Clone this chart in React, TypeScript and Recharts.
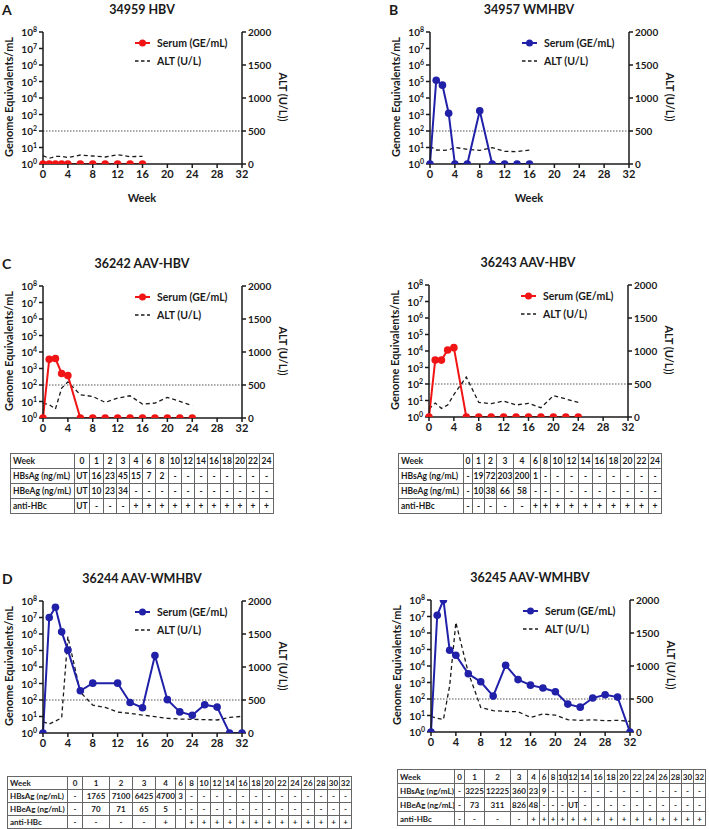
import React from 'react'
import { LineChart, Line, XAxis, YAxis, ReferenceLine, Legend } from 'recharts'

const FONT = 'Lato, "Open Sans", sans-serif'
const INK = '#1a1a1a'
const RED = '#f01414'
const BLUE = '#2020a8'

const weekTicks = [0, 4, 8, 12, 16, 20, 24, 28, 32]
const geTicks = [1, 10, 100, 1e3, 1e4, 1e5, 1e6, 1e7, 1e8]
const altTicks = [0, 500, 1000, 1500, 2000]

// A: 34959 HBV
const aWeeks = [0, 1, 2, 3, 4, 6, 8, 10, 12, 14, 16]
const aSerum = [1, 1, 1, 1, 1, 1, 1, 1, 1, 1, 1]
const aAlt = [126, 86, 116, 116, 96, 136, 121, 106, 141, 111, 116]

// B: 34957 WMHBV
const bWeeks = [0, 1, 2, 3, 4, 6, 8, 10, 12, 14, 16]
const bSerum = [1, 1.2e5, 6e4, 1.2e3, 1, 1, 1.7e3, 1, 1, 1, 1]
const bAlt = [268, 212, 207, 212, 252, 222, 207, 247, 192, 187, 212]

// C: 36242 / 36243 AAV-HBV
const cWeeks = [0, 1, 2, 3, 4, 6, 8, 10, 12, 14, 16, 18, 20, 22, 24]
const c1Serum = [1, 3.6e3, 4e3, 5e2, 3.7e2, 1, 1, 1, 1, 1, 1, 1, 1, 1, 1]
const c1Alt = [226, 201, 136, 452, 548, 352, 327, 236, 302, 337, 211, 226, 312, 251, 186]
const c2Serum = [1, 2.8e3, 2.8e3, 1.15e4, 1.6e4, 1, 1, 1, 1, 1, 1, 1, 1, 1, 1]
const c2Alt = [121, 212, 131, 182, 340, 606, 222, 202, 242, 182, 207, 141, 323, 273, 222]

// D: 36244 / 36245 AAV-WMHBV
const d1SerumWeeks = [0, 1, 2, 3, 4, 6, 8, 12, 14, 16, 18, 20, 22, 24, 26, 28, 30, 32]
const d1Serum = [1, 1e7, 4.2e7, 1.35e6, 1.05e5, 3.6e2, 1.05e3, 1.05e3, 71, 34, 5e4, 105, 19, 12, 52, 37, 1, 1]
const dWeeks = [0, 1, 2, 3, 4, 6, 8, 10, 12, 14, 16, 18, 20, 22, 24, 26, 28, 30, 32]
const d1Alt = [171, 136, 181, 230, 1460, 620, 423, 388, 318, 297, 272, 247, 222, 212, 207, 202, 197, 237, 252]
const d2Serum = [1, 1.2e7, 1e8, 9e4, 4.5e4, 3.4e3, 1.1e3, 150, 1.1e4, 1.5e3, 690, 460, 275, 49, 32, 114, 180, 130, 1]
const d2Alt = [237, 207, 190, 700, 1660, 900, 373, 323, 312, 307, 222, 272, 257, 186, 176, 186, 171, 176, 161]

// tables
const cTableWeeks = ['0', '1', '2', '3', '4', '6', '8', '10', '12', '14', '16', '18', '20', '22', '24']
const c1HBsAg = ['UT', '16', '23', '45', '15', '7', '2', '-', '-', '-', '-', '-', '-', '-', '-']
const c1HBeAg = ['UT', '10', '23', '34', '-', '-', '-', '-', '-', '-', '-', '-', '-', '-', '-']
const c1AntiHBc = ['UT', '-', '-', '-', '+', '+', '+', '+', '+', '+', '+', '+', '+', '+', '+']
const c2HBsAg = ['-', '19', '72', '203', '200', '1', '-', '-', '-', '-', '-', '-', '-', '-', '-']
const c2HBeAg = ['-', '10', '38', '66', '58', '-', '-', '-', '-', '-', '-', '-', '-', '-', '-']
const c2AntiHBc = ['-', '-', '-', '-', '-', '+', '+', '+', '+', '+', '+', '+', '+', '+', '+']

const dTableWeeks = ['0', '1', '2', '3', '4', '6', '8', '10', '12', '14', '16', '18', '20', '22', '24', '26', '28', '30', '32']
const d1HBsAg = ['-', '1765', '7100', '6425', '4700', '3', '-', '-', '-', '-', '-', '-', '-', '-', '-', '-', '-', '-', '-']
const d1HBeAg = ['-', '70', '71', '65', '5', '-', '-', '-', '-', '-', '-', '-', '-', '-', '-', '-', '-', '-', '-']
const d1AntiHBc = ['-', '-', '-', '-', '+', '', '+', '+', '+', '+', '+', '+', '+', '+', '+', '+', '+', '+', '+']
const d2HBsAg = ['-', '3225', '12225', '360', '23', '9', '-', '-', '-', '-', '-', '-', '-', '-', '-', '-', '-', '-', '-']
const d2HBeAg = ['-', '73', '311', '826', '48', '-', '-', '-', 'UT', '-', '-', '-', '-', '-', '-', '-', '-', '-', '-']
const d2AntiHBc = ['-', '-', '-', '-', '+', '+', '+', '+', '+', '+', '+', '+', '+', '+', '+', '+', '+', '+', '+']

const pts = (weeks: number[], vals: number[]) => weeks.map((week, i) => ({ week, v: vals[i] }))

const PowTick = (props: any) => {
  const { x, y, payload } = props
  const e = Math.round(Math.log10(payload.value))
  return (
    <text x={x} y={y} dy={4} textAnchor="end" fontSize={10} fontWeight={700} fill={INK} fontFamily={FONT}>
      10<tspan dy={-4} fontSize={7}>{e}</tspan>
    </text>
  )
}

const PanelLegend = ({ color }: { color: string }) => (
  <div style={{ fontFamily: FONT, fontWeight: 700, fontSize: 10.5, color: INK, lineHeight: '18px' }}>
    <div style={{ display: 'flex', alignItems: 'center' }}>
      <svg width={22} height={18}>
        <line x1={0} y1={9} x2={15} y2={9} stroke={color} strokeWidth={2} />
        <circle cx={7.5} cy={9} r={3.5} fill={color} />
      </svg>
      <span>Serum (GE/mL)</span>
    </div>
    <div style={{ display: 'flex', alignItems: 'center' }}>
      <svg width={22} height={18}>
        <line x1={0} y1={9} x2={15} y2={9} stroke={INK} strokeWidth={1.3} strokeDasharray="3.5 2.5" />
      </svg>
      <span>ALT (U/L)</span>
    </div>
  </div>
)

interface PanelProps {
  left: number
  top: number
  title: string
  letter?: string
  showWeek?: boolean
  color: string
  serum: { week: number; v: number }[]
  alt: { week: number; v: number }[]
}

function Panel({ left, top, title, letter, showWeek, color, serum, alt }: PanelProps) {
  const text = { position: 'absolute' as const, fontFamily: FONT, fontWeight: 700, color: INK, whiteSpace: 'nowrap' as const }
  return (
    <div style={{ position: 'absolute', left, top, width: 320, height: 205 }}>
      {letter && <div style={{ ...text, left: 2, top: 1, fontSize: 14 }}>{letter}</div>}
      <div style={{ ...text, left: 142, top: 9, fontSize: 12.5, transform: 'translate(-50%, -50%)' }}>{title}</div>
      <div style={{ ...text, left: 8, top: 97, fontSize: 11, transform: 'translate(-50%, -50%) rotate(-90deg)' }}>Genome Equivalents/mL</div>
      <div style={{ ...text, left: 283, top: 97, fontSize: 11, transform: 'translate(-50%, -50%) rotate(90deg)' }}>ALT (U/L))</div>
      {showWeek && <div style={{ ...text, left: 142, top: 197, fontSize: 11, transform: 'translate(-50%, -50%)' }}>Week</div>}
      <LineChart width={320} height={200} margin={{ top: 32, right: 38, bottom: 16, left: 3 }}>
        <XAxis
          type="number"
          dataKey="week"
          domain={[0, 32]}
          ticks={weekTicks}
          interval={0}
          height={20}
          tickSize={4}
          stroke={INK}
          strokeWidth={1.5}
          tick={{ fontSize: 11, fontWeight: 700, fill: INK, fontFamily: FONT }}
        />
        <YAxis
          yAxisId="ge"
          scale="log"
          domain={[1, 1e8]}
          ticks={geTicks}
          interval={0}
          allowDataOverflow
          width={40}
          tickSize={4}
          stroke={INK}
          strokeWidth={1.5}
          tick={<PowTick />}
        />
        <YAxis
          yAxisId="alt"
          orientation="right"
          domain={[0, 2000]}
          ticks={altTicks}
          interval={0}
          width={40}
          tickSize={4}
          stroke={INK}
          strokeWidth={1.5}
          tick={{ fontSize: 10, fontWeight: 700, fill: INK, fontFamily: FONT }}
        />
        <ReferenceLine yAxisId="ge" y={100} stroke="#555" strokeWidth={1} strokeDasharray="1.5 1.5" />
        <Line
          yAxisId="alt"
          data={alt}
          dataKey="v"
          stroke={INK}
          strokeWidth={1.3}
          strokeDasharray="4 3"
          dot={false}
          isAnimationActive={false}
        />
        <Line
          yAxisId="ge"
          data={serum}
          dataKey="v"
          stroke={color}
          strokeWidth={2}
          dot={{ r: 3.8, fill: color, stroke: color, strokeWidth: 0 }}
          isAnimationActive={false}
        />
        <Legend
          layout="vertical"
          align="center"
          verticalAlign="middle"
          wrapperStyle={{ top: 34, left: 135, width: 120 }}
          content={() => <PanelLegend color={color} />}
        />
      </LineChart>
    </div>
  )
}

interface TableProps {
  left: number
  top: number
  rowH: number
  labelW: number
  colW: number[]
  fontSize: number
  weeks: string[]
  rows: { label: string; values: string[] }[]
}

function DataTable({ left, top, rowH, labelW, colW, fontSize, weeks, rows }: TableProps) {
  const width = labelW + colW.reduce((s, w) => s + w, 0)
  const cell = {
    border: '1px solid #666', padding: 0, textAlign: 'center' as const, lineHeight: 1,
    whiteSpace: 'nowrap' as const, overflow: 'hidden',
  }
  const lab = { ...cell, textAlign: 'left' as const, paddingLeft: 2 }
  return (
    <table
      style={{
        position: 'absolute', left, top, width, tableLayout: 'fixed', borderCollapse: 'collapse',
        fontFamily: FONT, fontSize, fontWeight: 700, color: INK,
      }}
    >
      <colgroup>
        <col style={{ width: labelW }} />
        {colW.map((w, i) => <col key={i} style={{ width: w }} />)}
      </colgroup>
      <tbody>
        <tr style={{ height: rowH }}>
          <td style={lab}>Week</td>
          {weeks.map((w, i) => <td key={i} style={cell}>{w}</td>)}
        </tr>
        {rows.map((r) => (
          <tr key={r.label} style={{ height: rowH }}>
            <td style={lab}>{r.label}</td>
            {r.values.map((v, i) => <td key={i} style={cell}>{v}</td>)}
          </tr>
        ))}
      </tbody>
    </table>
  )
}

export default function App() {
  return (
    <div style={{ position: 'absolute', left: 0, top: 0, width: 709, height: 829, background: '#fff', overflow: 'hidden' }}>
      <Panel left={0} top={0} letter="A" title="34959 HBV" showWeek color={RED} serum={pts(aWeeks, aSerum)} alt={pts(aWeeks, aAlt)} />
      <Panel left={387} top={0} letter="B" title="34957 WMHBV" showWeek color={BLUE} serum={pts(bWeeks, bSerum)} alt={pts(bWeeks, bAlt)} />
      <Panel left={0} top={254} letter="C" title="36242 AAV-HBV" color={RED} serum={pts(cWeeks, c1Serum)} alt={pts(cWeeks, c1Alt)} />
      <Panel left={386} top={253} title="36243 AAV-HBV" color={RED} serum={pts(cWeeks, c2Serum)} alt={pts(cWeeks, c2Alt)} />
      <Panel left={0} top={569} letter="D" title="36244 AAV-WMHBV" color={BLUE} serum={pts(d1SerumWeeks, d1Serum)} alt={pts(dWeeks, d1Alt)} />
      <Panel left={388} top={568} title="36245 AAV-WMHBV" color={BLUE} serum={pts(dWeeks, d2Serum)} alt={pts(dWeeks, d2Alt)} />

      <DataTable
        left={10} top={453} rowH={15} labelW={64} fontSize={8.5}
        colW={[15, 14, 13, 13, 13, 13, 13, 13, 13, 13, 13, 13, 13, 13, 14]}
        weeks={cTableWeeks}
        rows={[
          { label: 'HBsAg (ng/mL)', values: c1HBsAg },
          { label: 'HBeAg (ng/mL)', values: c1HBeAg },
          { label: 'anti-HBc', values: c1AntiHBc },
        ]}
      />
      <DataTable
        left={398} top={453} rowH={15} labelW={65} fontSize={8.5}
        colW={[9, 12, 12, 17, 17, 10, 10, 14, 14, 14, 14, 14, 14, 14, 13]}
        weeks={cTableWeeks}
        rows={[
          { label: 'HBsAg (ng/mL)', values: c2HBsAg },
          { label: 'HBeAg (ng/mL)', values: c2HBeAg },
          { label: 'anti-HBc', values: c2AntiHBc },
        ]}
      />
      <DataTable
        left={7} top={776} rowH={13} labelW={60} fontSize={8}
        colW={[15, 27, 23, 23, 20, 10, 12, 13, 13, 13, 13, 13, 13, 13, 13, 13, 13, 12, 12]}
        weeks={dTableWeeks}
        rows={[
          { label: 'HBsAg (ng/mL)', values: d1HBsAg },
          { label: 'HBeAg (ng/mL)', values: d1HBeAg },
          { label: 'anti-HBc', values: d1AntiHBc },
        ]}
      />
      <DataTable
        left={397} top={769} rowH={14} labelW={57} fontSize={8}
        colW={[10, 20, 26, 17, 12, 9, 9, 10, 11, 13, 13, 13, 13, 13, 13, 13, 12, 12, 12]}
        weeks={dTableWeeks}
        rows={[
          { label: 'HBsAg (ng/mL)', values: d2HBsAg },
          { label: 'HBeAg (ng/mL)', values: d2HBeAg },
          { label: 'anti-HBc', values: d2AntiHBc },
        ]}
      />
    </div>
  )
}
